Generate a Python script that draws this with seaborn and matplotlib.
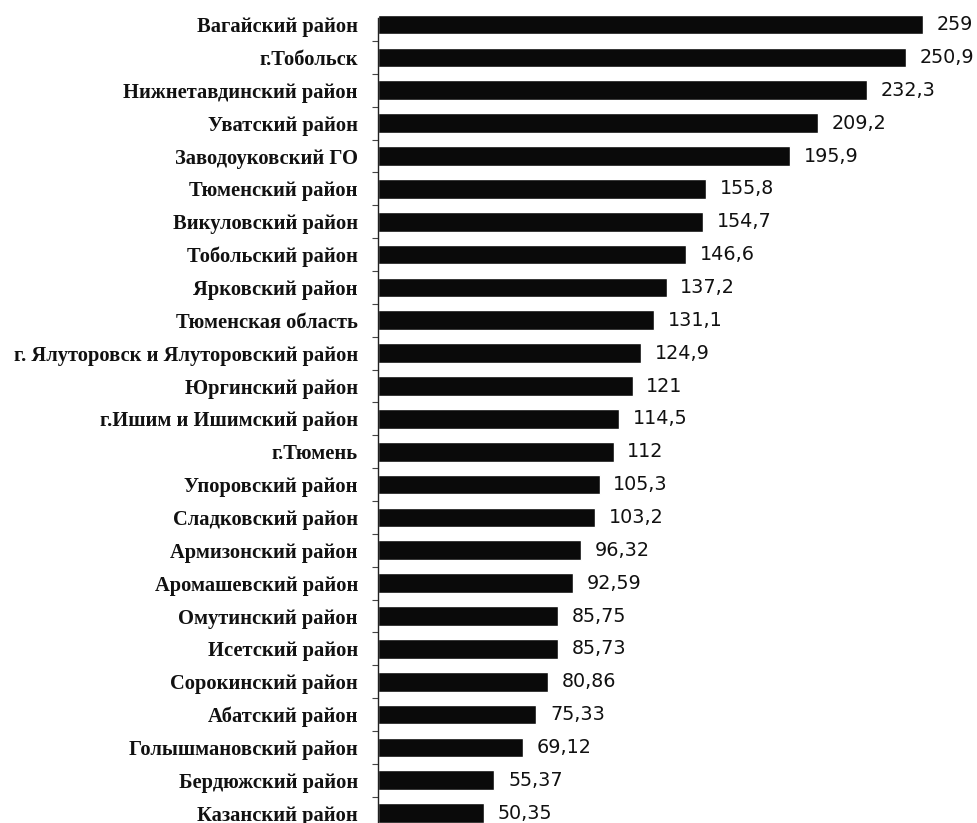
import numpy as np
import pandas as pd
import seaborn as sns
import matplotlib.pyplot as plt

# данные (значения по районам)
districts = [
    "Вагайский район", "г.Тобольск", "Нижнетавдинский район", "Уватский район",
    "Заводоуковский ГО", "Тюменский район", "Викуловский район", "Тобольский район",
    "Ярковский район", "Тюменская область", "г. Ялуторовск и Ялуторовский район",
    "Юргинский район", "г.Ишим и Ишимский район", "г.Тюмень", "Упоровский район",
    "Сладковский район", "Армизонский район", "Аромашевский район", "Омутинский район",
    "Исетский район", "Сорокинский район", "Абатский район", "Голышмановский район",
    "Бердюжский район", "Казанский район",
]
values = [259, 250.9, 232.3, 209.2, 195.9, 155.8, 154.7, 146.6, 137.2, 131.1,
          124.9, 121, 114.5, 112, 105.3, 103.2, 96.32, 92.59, 85.75, 85.73,
          80.86, 75.33, 69.12, 55.37, 50.35]

df = pd.DataFrame({'district': districts, 'value': values})

sns.set_style('white')
fig = plt.figure(figsize=(9.78, 8.23), dpi=100)
ax = fig.add_axes([378 / 978, 0, 1 - 378 / 978, 1])

sns.barplot(data=df, y='district', x='value', orient='h', color='#0a0a0a',
            width=0.6, saturation=1, ax=ax)

# подписи значений
for i, v in enumerate(values):
    txt = f"{v:g}".replace('.', ',')
    ax.text(v + 6.5, i, txt, va='center', ha='left', fontsize=13.8,
            family='DejaVu Sans', color='#111111')

# засечки между столбцами
ax.set_yticks(np.arange(len(districts) - 1) + 0.5, minor=True)
ax.tick_params(axis='y', which='major', left=False, length=0, pad=14.4)
ax.tick_params(axis='y', which='minor', left=True, length=4, width=0.8,
               color='#444444', direction='out')

ax.set_xlim(0, 600 / 2.104)
ax.set_ylim(24.3, -0.75)  # после set_yticks, иначе пределы расширяются
ax.set_xlabel('')
ax.set_ylabel('')
ax.set_xticks([])

for s in ['top', 'right', 'bottom']:
    ax.spines[s].set_visible(False)
ax.spines['left'].set_color('#222222')
ax.spines['left'].set_linewidth(1.0)
ax.spines['left'].set_bounds(-0.2, 24.3)

for lbl in ax.get_yticklabels():
    lbl.set_family('Liberation Serif')
    lbl.set_fontsize(14.8)
    lbl.set_fontweight('bold')
    lbl.set_color('#111111')

fig.savefig('out.png', dpi=100)
